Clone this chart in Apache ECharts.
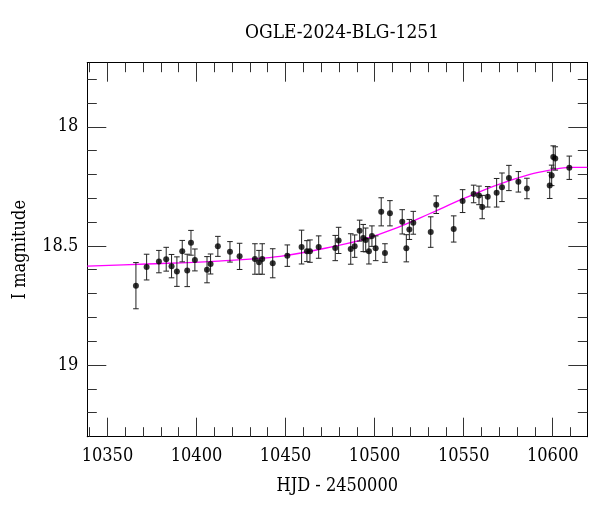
<!DOCTYPE html>
<html><head><meta charset="utf-8">
<script src="https://cdn.jsdelivr.net/npm/echarts@6/dist/echarts.min.js"></script>
<style>html,body{margin:0;padding:0;background:#fff}#c{width:600px;height:512px}</style>
</head><body><div id="c"></div>
<script>
const hjd = [10366.0,10372.0,10378.9,10383.0,10386.0,10389.0,10392.0,10394.8,10396.9,10399.1,10405.9,10407.9,10412.0,10418.8,10424.2,10432.8,10435.1,10436.9,10442.8,10451.0,10459.0,10462.0,10463.7,10468.6,10477.9,10479.8,10486.6,10488.8,10491.6,10493.6,10495.0,10496.8,10498.5,10500.6,10503.7,10505.8,10508.6,10515.5,10517.8,10519.5,10521.7,10531.5,10534.6,10544.4,10549.4,10555.6,10558.6,10560.4,10563.5,10568.5,10571.5,10575.4,10580.7,10585.5,10598.3,10599.4,10600.3,10601.4,10609.3];
const mag = [18.667,18.589,18.566,18.556,18.585,18.608,18.522,18.603,18.487,18.559,18.600,18.576,18.502,18.525,18.544,18.555,18.569,18.555,18.573,18.541,18.505,18.522,18.522,18.505,18.509,18.477,18.513,18.501,18.436,18.467,18.475,18.523,18.459,18.510,18.357,18.530,18.363,18.399,18.510,18.431,18.403,18.442,18.327,18.429,18.312,18.282,18.288,18.337,18.294,18.277,18.254,18.215,18.231,18.259,18.246,18.204,18.127,18.133,18.172];
const err = [0.097,0.054,0.047,0.050,0.049,0.062,0.045,0.068,0.052,0.046,0.055,0.042,0.042,0.043,0.055,0.064,0.050,0.064,0.061,0.045,0.071,0.044,0.047,0.047,0.053,0.055,0.064,0.047,0.044,0.057,0.050,0.053,0.043,0.052,0.059,0.039,0.053,0.051,0.057,0.042,0.048,0.064,0.037,0.055,0.048,0.037,0.039,0.049,0.043,0.060,0.060,0.053,0.043,0.043,0.055,0.043,0.047,0.049,0.049];
const modelX = [10338.7,10372,10409.4,10446.9,10480.5,10493.6,10512.4,10531.1,10549.8,10568.5,10587.2,10598.5,10609.7,10619.4];
const modelY = [18.585,18.576,18.565,18.544,18.497,18.473,18.424,18.364,18.302,18.245,18.200,18.182,18.170,18.170];
const xMajor = [10350,10400,10450,10500,10550,10600];
const xMinor = [10340,10360,10370,10380,10390,10410,10420,10430,10440,10460,10470,10480,10490,10510,10520,10530,10540,10560,10570,10580,10590,10610];
const yMajor = [18,18.5,19];
const yMinor = [17.8,17.9,18.1,18.2,18.3,18.4,18.6,18.7,18.8,18.9,19.1,19.2];
const titleText = 'OGLE-2024-BLG-1251';
const xName = 'HJD - 2450000';
const yName = 'I magnitude';

const XMIN = 10338.7, XMAX = 10619.4, YMIN = 17.731, YMAX = 19.301;
const FONT = '"DejaVu Serif Condensed", "DejaVu Serif", serif';
const FS = 18;

function xAx(pos, vals, len, show, labels) {
  return {
    type: 'value', position: pos, min: XMIN, max: XMAX,
    splitLine: {show: false},
    axisLine: {show: true, onZero: false, lineStyle: {color: '#000', width: 1}},
    axisTick: {show: true, inside: true, length: len, customValues: vals, lineStyle: {color: '#333', width: 1}},
    axisLabel: labels ? {show: true, customValues: xMajor, formatter: v => String(v), color: '#000', fontFamily: FONT, fontSize: FS, margin: 11} : {show: false},
    name: labels ? xName : '', nameLocation: 'middle', nameGap: 41,
    nameTextStyle: {color: '#000', fontFamily: FONT, fontSize: FS}
  };
}
function yAx(pos, vals, len, labels) {
  return {
    type: 'value', position: pos, min: YMIN, max: YMAX, inverse: true,
    splitLine: {show: false},
    axisLine: {show: true, onZero: false, lineStyle: {color: '#000', width: 1}},
    axisTick: {show: true, inside: true, length: len, customValues: vals, lineStyle: {color: '#333', width: 1}},
    axisLabel: labels ? {show: true, customValues: yMajor, formatter: v => String(v), color: '#000', fontFamily: FONT, fontSize: FS, margin: 9} : {show: false},
    name: labels ? yName : '', nameLocation: 'middle', nameGap: 58,
    nameTextStyle: {color: '#000', fontFamily: FONT, fontSize: FS}
  };
}

const chart = echarts.init(document.getElementById('c'), null, {renderer: 'canvas'});
const pts = hjd.map((x, i) => [x, mag[i], err[i]]);
chart.setOption({
  animation: false,
  backgroundColor: '#fff',
  title: {text: titleText, left: 337, top: 19, textAlign: 'center',
    textStyle: {color: '#000', fontFamily: FONT, fontSize: 19, fontWeight: 'normal'}},
  grid: {left: 87.3, right: 12.7, top: 62.7, bottom: 75.3, containLabel: false},
  xAxis: [xAx('bottom', xMajor, 19, true, true), xAx('bottom', xMinor, 9.5, true, false),
          xAx('top', xMajor, 19, true, false), xAx('top', xMinor, 9.5, true, false)],
  yAxis: [yAx('left', yMajor, 19, true), yAx('left', yMinor, 9.5, false),
          yAx('right', yMajor, 19, false), yAx('right', yMinor, 9.5, false)],
  series: [
    {
      type: 'line', xAxisIndex: 0, yAxisIndex: 0,
      data: modelX.map((x, i) => [x, modelY[i]]),
      showSymbol: false, smooth: 0.35,
      lineStyle: {color: '#ff00ff', width: 1.3}, z: 1, silent: true
    },
    {
      type: 'custom', xAxisIndex: 0, yAxisIndex: 0,
      data: pts,
      renderItem: function (params, api) {
        const x = api.value(0), y = api.value(1), e = api.value(2);
        const top = api.coord([x, y - e]);
        const bot = api.coord([x, y + e]);
        const cw = 2.8;
        const st = {stroke: '#222', lineWidth: 1};
        return {type: 'group', children: [
          {type: 'line', shape: {x1: top[0], y1: top[1], x2: bot[0], y2: bot[1]}, style: st},
          {type: 'line', shape: {x1: top[0] - cw, y1: top[1], x2: top[0] + cw, y2: top[1]}, style: st},
          {type: 'line', shape: {x1: bot[0] - cw, y1: bot[1], x2: bot[0] + cw, y2: bot[1]}, style: st}
        ]};
      },
      z: 2, silent: true
    },
    {
      type: 'scatter', xAxisIndex: 0, yAxisIndex: 0,
      data: pts.map(p => [p[0], p[1]]),
      symbol: 'circle', symbolSize: 6,
      itemStyle: {color: '#000'}, z: 3, silent: true
    }
  ]
});
</script></body></html>
